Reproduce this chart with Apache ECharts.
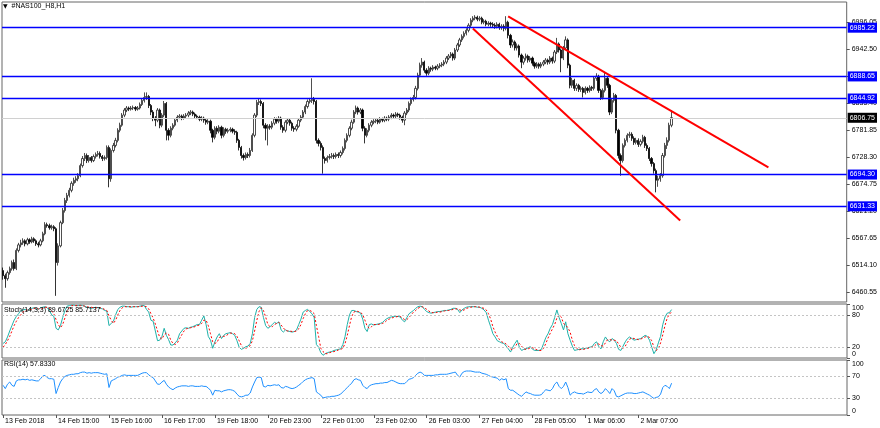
<!DOCTYPE html>
<html><head><meta charset="utf-8">
<script src="https://cdn.jsdelivr.net/npm/echarts@6/dist/echarts.min.js"></script>
<style>html,body{margin:0;padding:0;background:#fff}#c{width:880px;height:428px}</style>
</head><body><div id="c"></div>
<script>
const symbolName = '#NAS100_H8,H1';
const stochTitle = 'Stoch(14,3,3) 89.6725 85.7137';
const rsiTitle = 'RSI(14) 57.8330';
const timeLabels = ['13 Feb 2018','14 Feb 15:00','15 Feb 16:00','16 Feb 17:00','19 Feb 18:00','20 Feb 23:00','22 Feb 01:00','23 Feb 02:00','26 Feb 03:00','27 Feb 04:00','28 Feb 05:00','1 Mar 06:00','2 Mar 07:00'];
const barsPerLabel = 24;
const slotCount = 383;
const priceTicks = [6460.55,6514.10,6567.65,6621.20,6674.75,6728.30,6781.85,6835.40,6888.95,6942.50,6996.05];
const stochTicks = [0,20,80,100];
const rsiTicks = [0,30,70,100];
const levels = [6985.22,6888.65,6844.92,6694.30,6631.33];
const bidPrice = 6806.75;
const upperTrend = [[229,7007.4],[347,6708.3]];
const lowerTrend = [[213,6983.4],[307,6603.1]];
// [open, close, low, high]
const candles = [
[6504,6494,6486,6510],[6494,6488,6470,6498],[6488,6500,6484,6504],[6500,6508,6496,6512],[6508,6520,6504,6524],[6520,6508,6504,6526],[6508,6544,6505,6548],[6544,6555,6540,6559],[6555,6559,6550,6565],[6559,6563,6555,6568],
[6563,6557,6552,6566],[6557,6565,6554,6569],[6565,6561,6557,6568],[6561,6567,6558,6571],[6567,6563,6559,6570],[6563,6557,6553,6566],[6557,6555,6550,6561],[6555,6563,6552,6567],[6563,6577,6560,6581],[6577,6595,6574,6600],
[6595,6593,6589,6599],[6593,6589,6585,6597],[6589,6591,6585,6595],[6591,6587,6582,6594],[6587,6520,6454,6590],[6520,6553,6514,6558],[6553,6599,6550,6603],[6599,6623,6596,6628],[6623,6643,6619,6648],[6643,6653,6638,6658],
[6653,6663,6649,6668],[6663,6677,6659,6681],[6677,6683,6672,6688],[6683,6686,6678,6691],[6686,6692,6681,6697],[6692,6712,6689,6716],[6712,6726,6708,6731],[6726,6732,6721,6737],[6732,6722,6717,6736],[6722,6728,6718,6733],
[6728,6722,6718,6731],[6722,6730,6719,6734],[6730,6734,6726,6738],[6734,6736,6730,6741],[6736,6730,6726,6740],[6730,6726,6721,6733],[6726,6728,6722,6732],[6728,6748,6724,6752],[6748,6686,6669,6752],[6686,6742,6680,6746],
[6742,6752,6738,6757],[6752,6762,6748,6767],[6762,6782,6758,6786],[6782,6792,6778,6797],[6792,6812,6789,6816],[6812,6822,6808,6826],[6822,6826,6818,6830],[6826,6824,6820,6829],[6824,6826,6821,6830],[6826,6827,6822,6831],
[6827,6824,6820,6830],[6824,6826,6821,6830],[6826,6833,6823,6837],[6833,6841,6830,6845],[6841,6847,6837,6857],[6847,6849,6842,6857],[6849,6831,6826,6852],[6831,6818,6812,6834],[6818,6806,6800,6822],[6806,6802,6790,6810],
[6802,6822,6798,6826],[6822,6792,6786,6825],[6792,6812,6788,6816],[6812,6835,6808,6840],[6835,6782,6762,6838],[6782,6772,6762,6786],[6772,6786,6768,6790],[6786,6792,6782,6796],[6792,6802,6789,6806],[6802,6808,6798,6812],
[6808,6810,6804,6814],[6810,6806,6802,6813],[6806,6810,6803,6814],[6810,6812,6806,6816],[6812,6816,6808,6820],[6816,6818,6812,6822],[6818,6814,6810,6821],[6814,6810,6806,6817],[6810,6808,6804,6813],[6808,6804,6800,6811],
[6804,6806,6800,6810],[6806,6802,6797,6809],[6802,6798,6793,6805],[6798,6800,6794,6804],[6800,6782,6776,6803],[6782,6768,6758,6785],[6768,6786,6764,6790],[6786,6780,6774,6790],[6780,6788,6776,6792],[6788,6772,6766,6791],
[6772,6784,6768,6788],[6784,6780,6775,6787],[6780,6782,6776,6786],[6782,6784,6778,6788],[6784,6780,6776,6787],[6780,6778,6773,6784],[6778,6762,6757,6781],[6762,6748,6742,6765],[6748,6732,6726,6751],[6732,6728,6722,6736],
[6728,6734,6724,6738],[6734,6732,6727,6738],[6732,6742,6728,6747],[6742,6772,6739,6776],[6772,6812,6768,6816],[6812,6837,6808,6842],[6837,6839,6832,6844],[6839,6835,6830,6843],[6835,6792,6786,6838],[6792,6786,6762,6796],
[6786,6790,6752,6794],[6790,6788,6783,6794],[6788,6796,6784,6800],[6796,6804,6792,6808],[6804,6800,6795,6807],[6800,6806,6796,6810],[6806,6788,6783,6809],[6788,6782,6777,6792],[6782,6798,6778,6802],[6798,6802,6794,6806],
[6802,6796,6791,6805],[6796,6786,6781,6799],[6786,6784,6779,6790],[6784,6790,6780,6794],[6790,6802,6787,6806],[6802,6808,6798,6812],[6808,6818,6805,6822],[6818,6829,6814,6833],[6829,6839,6825,6843],[6839,6841,6835,6846],
[6841,6843,6836,6885],[6843,6839,6833,6848],[6839,6762,6756,6842],[6762,6756,6750,6766],[6756,6748,6742,6760],[6748,6726,6696,6752],[6726,6722,6716,6730],[6722,6728,6718,6732],[6728,6730,6724,6735],[6730,6732,6726,6737],
[6732,6730,6725,6736],[6730,6734,6726,6738],[6734,6732,6727,6738],[6732,6738,6728,6742],[6738,6746,6734,6750],[6746,6762,6742,6766],[6762,6772,6758,6776],[6772,6786,6768,6790],[6786,6798,6782,6803],[6798,6818,6795,6822],
[6818,6826,6814,6831],[6826,6818,6813,6829],[6818,6822,6814,6826],[6822,6786,6780,6825],[6786,6772,6756,6790],[6772,6782,6768,6786],[6782,6792,6778,6796],[6792,6798,6788,6802],[6798,6800,6794,6804],[6800,6802,6796,6806],
[6802,6798,6794,6806],[6798,6804,6795,6808],[6804,6802,6798,6807],[6802,6806,6798,6810],[6806,6804,6800,6809],[6804,6808,6800,6812],[6808,6812,6804,6816],[6812,6810,6806,6815],[6810,6814,6806,6818],[6814,6812,6808,6817],
[6812,6808,6803,6815],[6808,6802,6797,6811],[6802,6816,6792,6820],[6816,6822,6812,6826],[6822,6835,6818,6839],[6835,6843,6831,6847],[6843,6847,6839,6852],[6847,6865,6843,6870],[6865,6891,6861,6896],[6891,6911,6887,6916],
[6911,6917,6906,6925],[6917,6901,6896,6920],[6901,6895,6890,6905],[6895,6905,6891,6909],[6905,6903,6898,6908],[6903,6907,6899,6911],[6907,6905,6901,6910],[6905,6909,6901,6913],[6909,6911,6905,6915],[6911,6913,6907,6917],
[6913,6917,6909,6921],[6917,6925,6913,6929],[6925,6929,6921,6933],[6929,6933,6925,6937],[6933,6925,6920,6936],[6925,6941,6921,6945],[6941,6951,6937,6955],[6951,6961,6947,6965],[6961,6968,6957,6972],[6968,6974,6964,6978],
[6974,6980,6970,6984],[6980,6990,6976,6994],[6990,7000,6986,7004],[7000,7004,6996,7008],[7004,7006,7000,7010],[7006,7002,6998,7009],[7002,7004,6998,7008],[7004,6996,6992,7007],[6996,6998,6992,7002],[6998,6992,6988,7001],
[6992,6994,6988,6998],[6994,6992,6987,6997],[6992,6990,6985,6996],[6990,6988,6983,6994],[6988,6992,6984,6996],[6992,6986,6981,6995],[6986,6988,6981,6992],[6988,6984,6978,6992],[6984,6996,6980,7008],[6996,6970,6964,6999],
[6970,6951,6945,6973],[6951,6957,6946,6962],[6957,6945,6940,6960],[6945,6949,6940,6954],[6949,6931,6926,6952],[6931,6917,6905,6934],[6917,6925,6912,6929],[6925,6929,6920,6934],[6929,6921,6916,6932],[6921,6925,6917,6929],
[6925,6915,6910,6928],[6915,6909,6904,6918],[6909,6913,6905,6917],[6913,6909,6904,6916],[6909,6913,6905,6917],[6913,6917,6909,6921],[6917,6921,6913,6925],[6921,6917,6912,6924],[6917,6925,6913,6929],[6925,6919,6914,6928],
[6919,6937,6915,6941],[6937,6953,6933,6965],[6953,6941,6936,6956],[6941,6925,6897,6944],[6925,6945,6921,6949],[6945,6961,6941,6968],[6961,6911,6905,6964],[6911,6871,6865,6914],[6871,6881,6866,6886],[6881,6865,6860,6884],
[6865,6871,6860,6875],[6871,6863,6858,6874],[6863,6865,6858,6869],[6865,6857,6847,6868],[6857,6865,6853,6869],[6865,6861,6856,6868],[6861,6867,6857,6871],[6867,6865,6860,6870],[6865,6885,6861,6889],[6885,6889,6880,6895],
[6889,6861,6856,6892],[6861,6847,6842,6864],[6847,6861,6843,6865],[6861,6885,6857,6897],[6885,6871,6866,6888],[6871,6818,6812,6874],[6818,6841,6814,6845],[6841,6851,6837,6856],[6851,6782,6776,6854],[6782,6732,6726,6785],
[6732,6722,6692,6736],[6722,6752,6718,6756],[6752,6762,6748,6766],[6762,6772,6758,6776],[6772,6774,6767,6779],[6774,6766,6761,6778],[6766,6758,6753,6770],[6758,6762,6754,6767],[6762,6754,6749,6766],[6754,6760,6750,6764],
[6760,6768,6756,6773],[6768,6752,6747,6771],[6752,6746,6741,6756],[6746,6726,6721,6749],[6726,6716,6710,6729],[6716,6702,6696,6719],[6702,6683,6659,6706],[6683,6686,6670,6692],[6686,6692,6680,6697],[6692,6732,6688,6737],
[6732,6752,6728,6757],[6752,6762,6745,6768],[6762,6792,6758,6797],[6792,6807,6788,6822]
];
const stochK = [27,30,39,50,60,70,77,82,88,89,
90,88,91,92,93,91,90,93,94,95,
93,88,80,77,55,52,60,75,88,96,
97,98,98,97,97,98,97,96,94,93,
92,93,94,93,92,91,88,87,60,64,
68,80,90,94,96,96,95,95,94,95,
95,95,96,97,97,90,85,70,68,50,
32,33,40,55,42,34,24,24,28,33,
45,50,55,56,55,57,58,60,62,62,
70,78,62,40,33,18,30,39,45,36,
42,45,46,47,45,42,32,20,16,18,
21,22,27,45,75,90,95,94,75,60,
55,58,62,66,64,67,52,48,52,50,
49,48,49,52,62,72,85,88,90,86,
82,75,25,20,10,5,8,10,11,12,
14,15,16,17,25,40,62,80,88,88,
86,85,83,72,55,49,62,63,61,62,
63,64,66,70,73,75,76,77,77,77,
76,70,67,75,82,85,88,92,95,96,
95,90,86,84,83,84,85,86,86,87,
88,88,89,90,92,92,90,84,89,92,
94,95,95,95,95,94,94,92,89,84,
70,58,45,39,32,30,28,27,22,17,
11,20,27,33,20,14,16,17,19,21,
16,14,14,14,16,27,38,45,55,62,
75,89,75,64,52,67,45,33,22,14,
15,16,17,17,18,19,20,21,27,30,
21,17,30,39,33,30,36,33,27,16,
14,22,30,36,39,36,33,34,35,36,
39,42,40,33,20,8,15,28,40,62,
76,83,84,89.67];
const stochD = [20,25,32,40,50,60,68,75,80,85,
88,89,90,90,92,92,91,91,92,94,
94,92,87,82,71,62,56,62,74,86,
93,97,97,97,97,97,97,96,95,94,
94,93,93,93,93,92,90,88,78,70,
64,70,80,88,93,95,95,95,95,95,
95,95,95,96,96,95,91,82,74,63,
50,38,35,43,46,44,33,27,25,28,
36,43,50,54,55,56,57,58,60,61,
64,70,70,60,45,30,27,29,38,40,
40,41,44,46,46,45,40,32,23,18,
18,20,23,32,50,70,86,93,88,76,
62,58,58,62,64,66,61,56,51,50,
50,49,49,50,54,62,73,82,88,88,
86,82,60,40,18,12,8,8,10,11,
12,13,15,16,18,27,42,60,77,85,
87,86,85,80,70,59,55,58,62,62,
62,63,64,66,70,72,74,75,76,77,
77,74,71,71,75,80,85,88,92,94,
95,93,90,87,84,84,84,85,85,86,
87,88,88,89,90,91,91,89,88,89,
92,93,94,95,95,95,94,93,92,89,
82,72,58,48,40,34,30,28,26,22,
17,15,20,27,27,22,17,16,17,19,
19,17,15,14,14,18,27,37,46,54,
62,74,80,76,64,61,56,48,33,23,
18,15,16,16,17,18,19,20,22,26,
26,23,22,28,34,34,33,33,32,26,
20,18,22,29,35,37,36,35,34,35,
37,39,40,38,32,20,14,17,28,43,
60,74,81,85.71];
const rsi = [54,48,56,60,54,52,62,64,64,65,
64,65,63,64,63,62,62,66,71,72,
68,66,66,65,39,50,60,66,70,72,
73,74,74,75,75,77,78,78,76,77,
76,77,77,77,76,75,74,75,50,62,
64,66,69,70,72,73,72,72,72,72,
72,72,74,76,77,77,73,70,68,62,
56,56,60,63,56,51,48,46,49,51,
52,53,53,53,52,53,53,52,52,52,
53,52,52,49,45,36,45,44,44,42,
44,45,46,46,45,43,38,34,33,34,
36,36,40,51,60,68,69,68,52,51,
54,53,54,55,54,55,50,49,52,51,
49,48,49,51,54,57,61,64,66,67,
68,66,42,39,36,31,32,33,33,34,
34,35,36,38,42,46,50,54,58,64,
66,64,63,54,50,48,53,55,56,57,
57,58,58,59,59,61,63,62,60,58,
57,57,57,61,65,66,68,72,76,78,
76,72,72,72,72,72,73,73,74,74,
74,74,75,76,77,78,72,69,76,79,
80,80,80,79,78,78,78,76,75,74,
72,70,69,68,67,63,66,64,66,48,
45,45,42,39,36,34,38,42,40,39,
37,36,36,36,37,42,46,45,44,48,
56,60,52,48,52,60,50,36,40,42,
40,39,39,38,40,42,41,41,46,48,
42,39,42,48,44,39,48,44,34,33,
35,37,39,40,40,40,39,39,40,41,
42,40,38,36,33,30,32,33,38,50,
54,52,48,57.83];

const categories = Array.from({length: slotCount}, (_, i) =>
  (i % barsPerLabel === 0 && i / barsPerLabel < timeLabels.length) ? timeLabels[i / barsPerLabel] : '');
const isLabelSlot = (i) => i % barsPerLabel === 0 && i / barsPerLabel < timeLabels.length;

const FONT = 'Liberation Sans';
const FS = 7;
const txt = {color:'#000', fontFamily:FONT, fontSize:FS};
const border = '#666666';

function hiddenX(g){
  return {type:'category', gridIndex:g, data:categories, boundaryGap:true,
    axisLine:{show:false}, axisTick:{show:false}, axisLabel:{show:false}, splitLine:{show:false}};
}
function edgeFormatter(maxV){
  return v => v === maxV ? '{dn|' + v + '}' : (v === 0 ? '{up|' + v + '}' : '{m|' + v + '}');
}
const edgeRich = {
  dn:{padding:[8,0,0,0], lineHeight:6, fontSize:FS, fontFamily:FONT, color:'#000'},
  up:{padding:[0,0,8,0], lineHeight:6, fontSize:FS, fontFamily:FONT, color:'#000'},
  m:{lineHeight:6, fontSize:FS, fontFamily:FONT, color:'#000'}
};
function levelLine(v, col, bg, w){
  return {yAxis:v, lineStyle:{color:col, width:w, type:'solid'},
    label:{show:true, position:'end', distance:1, formatter: p => Number(p.value).toFixed(2),
      color:'#fff', backgroundColor:bg, padding:[2,2,1,2], fontSize:FS, fontFamily:FONT, lineHeight:7}};
}
function trend(pts){
  return [{coord:pts[0]}, {coord:pts[1]}];
}
const dashLevel = {color:'#c4c4c4', width:1, type:[2,2]};

const chart = echarts.init(document.getElementById('c'), null, {renderer:'canvas'});
chart.setOption({
  animation:false,
  backgroundColor:'#ffffff',
  textStyle:{fontFamily:FONT},
  title:[
    {text:'{t|▼}  ' + symbolName, left:3, top:3, padding:0,
      textStyle:{fontSize:FS, color:'#000', fontWeight:'normal', fontFamily:FONT, rich:{t:{fontSize:6, color:'#000', fontFamily:'DejaVu Sans'}}}},
    {text:stochTitle, left:4, top:307, padding:0, textStyle:{fontSize:FS, color:'#000', fontWeight:'normal', fontFamily:FONT}},
    {text:rsiTitle, left:4, top:361, padding:0, textStyle:{fontSize:FS, color:'#000', fontWeight:'normal', fontFamily:FONT}}
  ],
  grid:[
    {left:2, right:33, top:2, height:300, show:true, borderColor:border, borderWidth:1, backgroundColor:'transparent'},
    {left:2, right:33, top:304, height:54, show:true, borderColor:border, borderWidth:1, backgroundColor:'transparent'},
    {left:2, right:33, top:360, height:55, show:true, borderColor:border, borderWidth:1, backgroundColor:'transparent'}
  ],
  xAxis:[
    hiddenX(0), hiddenX(1),
    {type:'category', gridIndex:2, data:categories, boundaryGap:true,
      axisLine:{show:false}, splitLine:{show:false},
      axisTick:{show:true, alignWithLabel:true, interval:(i)=>isLabelSlot(i), length:3, lineStyle:{color:'#555'}},
      axisLabel:{show:true, hideOverlap:false, interval:(i)=>isLabelSlot(i), align:'left', margin:3, padding:[0,0,0,2], ...txt}}
  ],
  yAxis:[
    {type:'value', gridIndex:0, position:'right', min:6441.8, max:7036.1, scale:true,
      axisLine:{show:false}, splitLine:{show:false},
      axisTick:{show:true, length:3, customValues:priceTicks, lineStyle:{color:'#555'}},
      axisLabel:{customValues:priceTicks, hideOverlap:false, formatter:v=>v.toFixed(2), margin:5, ...txt}},
    {type:'value', gridIndex:1, position:'right', min:0, max:100,
      axisLine:{show:false}, splitLine:{show:false},
      axisTick:{show:true, length:3, customValues:stochTicks, lineStyle:{color:'#555'}},
      axisLabel:{customValues:stochTicks, hideOverlap:false, showMinLabel:true, showMaxLabel:true, formatter:edgeFormatter(100), rich:edgeRich, margin:5, ...txt}},
    {type:'value', gridIndex:2, position:'right', min:0, max:100,
      axisLine:{show:false}, splitLine:{show:false},
      axisTick:{show:true, length:3, customValues:rsiTicks, lineStyle:{color:'#555'}},
      axisLabel:{customValues:rsiTicks, hideOverlap:false, showMinLabel:true, showMaxLabel:true, formatter:edgeFormatter(100), rich:edgeRich, margin:5, ...txt}}
  ],
  series:[
    {type:'candlestick', xAxisIndex:0, yAxisIndex:0, data:candles, barWidth:1.8,
      itemStyle:{color:'#ffffff', color0:'#000000', borderColor:'#222222', borderColor0:'#000000', borderWidth:0.8},
      markLine:{symbol:['none','none'], silent:true, animation:false, z:5,
        data:[
          levelLine(bidPrice, '#d0d0d0', '#000000', 1),
          ...levels.map(v => levelLine(v, '#0000ff', '#0000ff', 1.3)),
          trend(upperTrend).map(p => Object.assign(p, {lineStyle:{color:'#ff0000', width:2, type:'solid'}, label:{show:false}})),
          trend(lowerTrend).map(p => Object.assign(p, {lineStyle:{color:'#ff0000', width:2, type:'solid'}, label:{show:false}}))
        ]}},
    {type:'line', name:'%K', xAxisIndex:1, yAxisIndex:1, data:stochK, showSymbol:false,
      lineStyle:{color:'#20b2aa', width:1}, z:3,
      markLine:{symbol:['none','none'], silent:true, animation:false, label:{show:false},
        data:[{yAxis:80, lineStyle:dashLevel},{yAxis:20, lineStyle:dashLevel}]}},
    {type:'line', name:'%D', xAxisIndex:1, yAxisIndex:1, data:stochD, showSymbol:false,
      lineStyle:{color:'#ff0000', width:1, type:[2,2]}, z:4},
    {type:'line', name:'RSI', xAxisIndex:2, yAxisIndex:2, data:rsi, showSymbol:false,
      lineStyle:{color:'#1e90ff', width:1},
      markLine:{symbol:['none','none'], silent:true, animation:false, label:{show:false},
        data:[{yAxis:70, lineStyle:dashLevel},{yAxis:30, lineStyle:dashLevel}]}}
  ]
});
</script></body></html>
